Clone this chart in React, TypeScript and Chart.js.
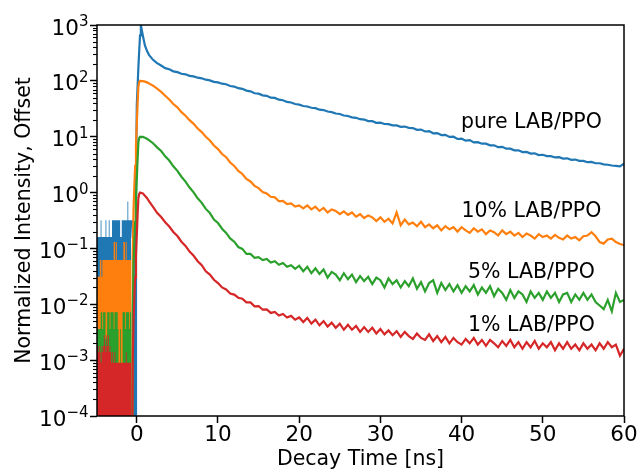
import React, { useEffect, useRef } from 'react';
import { Chart, registerables } from 'chart.js';

Chart.register(...registerables);

const FONT = '"DejaVu Sans", "Liberation Sans", sans-serif';

const seriesNames = ['pure LAB/PPO', '10% LAB/PPO', '5% LAB/PPO', '1% LAB/PPO'];
const seriesColors = ['#1f77b4', '#ff7f0e', '#2ca02c', '#d62728'];

const xTickValues = [0, 10, 20, 30, 40, 50, 60];
const yTickExponents = [-4, -3, -2, -1, 0, 1, 2, 3];
const yMinorMultipliers = [2, 3, 4, 5, 6, 7, 8, 9];

// annotation anchor (data coords: time [ns], intensity at text baseline)
const labelTime = [48.6, 48.6, 48.6, 48.6];
const labelLevel = [14.2, 0.36, 0.03, 0.00333];

// pre-trigger noise floor (visible envelope of the counts before t=0)
const preTriggerTime = [
  -4.9, -4.8, -4.7, -4.6, -4.5, -4.4, -4.3, -4.2, -4.1, -4.0,
  -3.9, -3.8, -3.7, -3.6, -3.5, -3.4, -3.3, -3.2, -3.1, -3.0,
  -2.9, -2.8, -2.7, -2.6, -2.5, -2.4, -2.3, -2.2, -2.1, -2.0,
  -1.9, -1.8, -1.7, -1.6, -1.5, -1.4, -1.3, -1.2, -1.1, -1.0,
  -0.9, -0.8, -0.7,
];
const pureBackground = [
  0.16, 0.16, 0.16, 0.16, 0.16, 0.32, 0.16, 0.16, 0.16, 0.16,
  0.16, 0.32, 0.16, 0.16, 0.16, 0.32, 0.16, 0.16, 0.16, 0.32,
  0.32, 0.32, 0.32, 0.32, 0.32, 0.32, 0.32, 0.32, 0.32, 0.16,
  0.16, 0.32, 0.32, 0.32, 0.32, 0.32, 0.32, 0.32, 0.69, 0.32,
  0.32, 0.32, 0.32,
];
const tenBackground = [
  0.031, 0.031, 0.031, 0.031, 0.062, 0.062, 0.031, 0.062, 0.062, 0.062,
  0.062, 0.062, 0.062, 0.062, 0.062, 0.062, 0.062, 0.062, 0.062, 0.062,
  0.062, 0.13, 0.13, 0.062, 0.13, 0.062, 0.062, 0.062, 0.062, 0.062,
  0.062, 0.062, 0.062, 0.13, 0.13, 0.062, 0.13, 0.062, 0.062, 0.062,
  0.062, 0.062, 0.062,
];
const fiveBackground = [
  0.0036, 0.0036, 0.0036, 0.0036, 0.0036, 0.0072, 0.0072, 0.0036, 0.0072, 0.0072,
  0.0072, 0.0024, 0.0024, 0.0072, 0.0072, 0.0072, 0.0036, 0.0072, 0.0072, 0.0072,
  0.0072, 0.0036, 0.0072, 0.0072, 0.0072, 0.0072, 0.0036, 0.0008, 0.0008, 0.0036,
  0.0008, 0.0008, 0.0072, 0.0072, 0.0072, 0.0036, 0.0072, 0.0072, 0.0072, 0.0072,
  0.0036, 0.0072, 0.0072,
];
const oneBackground = [
  0.0018, 0.0018, 0.0014, 0.0018, 0.0014, 0.0009, 0.0018, 0.0014, 0.0018, 0.0028,
  0.0018, 0.0014, 0.0028, 0.0018, 0.0028, 0.0014, 0.0018, 0.0014, 0.0009, 0.0014,
  0.0009, 0.0009, 0.0014, 0.0009, 0.0009, 0.0009, 0.0009, 0.0009, 0.0009, 0.0009,
  0.0009, 0.0009, 0.0009, 0.0009, 0.0009, 0.0009, 0.0014, 0.0009, 0.0009, 0.0009,
  0.0009, 0.0009, 0.0009,
];

// decay curves (0 = zero counts)
const decayTime = [
  -0.6, -0.5, -0.4, -0.3, -0.2, -0.1, 0, 0.1, 0.2, 0.3, 0.4, 0.5,
  0.75, 1, 1.25, 1.5,
  2, 2.5, 3, 3.5, 4, 4.5, 5, 5.5, 6, 6.5,
  7, 7.5, 8, 8.5, 9, 9.5, 10, 10.5, 11, 11.5,
  12, 12.5, 13, 13.5, 14, 14.5, 15, 15.5, 16, 16.5,
  17, 17.5, 18, 18.5, 19, 19.5, 20, 20.5, 21, 21.5,
  22, 22.5, 23, 23.5, 24, 24.5, 25, 25.5, 26, 26.5,
  27, 27.5, 28, 28.5, 29, 29.5, 30, 30.5, 31, 31.5,
  32, 32.5, 33, 33.5, 34, 34.5, 35, 35.5, 36, 36.5,
  37, 37.5, 38, 38.5, 39, 39.5, 40, 40.5, 41, 41.5,
  42, 42.5, 43, 43.5, 44, 44.5, 45, 45.5, 46, 46.5,
  47, 47.5, 48, 48.5, 49, 49.5, 50, 50.5, 51, 51.5,
  52, 52.5, 53, 53.5, 54, 54.5, 55, 55.5, 56, 56.5,
  57, 57.5, 58, 58.5, 59, 59.5, 60,
];
const pureDecay = [
  0.32, 0.16, 0.16, 0, 0, 1.5, 37, 80, 180, 350, 650, 1000,
  640, 430, 345, 292,
  238, 207, 188, 169, 161, 148, 143, 134, 131, 123,
  120, 114, 111, 105, 102, 96, 94, 89, 87, 81,
  79, 74, 72, 67, 65, 60, 59, 55, 54, 50,
  49.5, 46, 45, 42, 41, 38.5, 37.5, 35.5, 34.8, 33,
  32.5, 30.5, 30, 28.3, 27.5, 26, 25.5, 24, 23.5, 22.2,
  21.8, 20.6, 20.3, 19, 19, 17.7, 17.8, 16.9, 16.8, 16,
  15.9, 15, 15.2, 14.4, 14.3, 13.3, 13.4, 12.4, 12.6, 11.5,
  11.6, 10.7, 10.8, 9.9, 10, 9.1, 9.2, 8.5, 8.7, 7.9,
  8.0, 7.5, 7.5, 7.0, 7.0, 6.5, 6.6, 6.1, 6.1, 5.7,
  5.7, 5.3, 5.35, 5.0, 5.05, 4.7, 4.75, 4.5, 4.5, 4.25,
  4.3, 4.05, 4.1, 3.85, 3.9, 3.7, 3.7, 3.5, 3.55, 3.35,
  3.35, 3.2, 3.15, 3.05, 3.0, 2.95, 3.3,
];
const tenDecay = [
  0, 0.08, 0.5, 1.3, 3, 7, 17, 40, 80, 95, 100, 99,
  99, 97, 94, 90,
  82, 72.5, 63.5, 54, 46.5, 38.5, 33.5, 27.5, 23.8, 19.8,
  17.0, 14.0, 12.1, 10.0, 8.55, 6.95, 6.0, 4.9, 4.3, 3.45,
  3.0, 2.45, 2.15, 1.76, 1.58, 1.32, 1.2, 1.02, 0.96, 0.84,
  0.82, 0.7, 0.71, 0.62, 0.64, 0.56, 0.59, 0.52, 0.59, 0.5,
  0.56, 0.47, 0.53, 0.44, 0.5, 0.47, 0.41, 0.46, 0.4, 0.44,
  0.37, 0.41, 0.35, 0.39, 0.36, 0.31, 0.36, 0.3, 0.34, 0.28,
  0.44, 0.26, 0.33, 0.27, 0.29, 0.25, 0.3, 0.24, 0.27, 0.23,
  0.26, 0.21, 0.25, 0.22, 0.24, 0.2, 0.24, 0.21, 0.19, 0.23,
  0.2, 0.22, 0.18, 0.21, 0.195, 0.17, 0.21, 0.18, 0.2, 0.17,
  0.19, 0.16, 0.185, 0.17, 0.15, 0.18, 0.16, 0.17, 0.15, 0.175,
  0.155, 0.145, 0.17, 0.15, 0.16, 0.14, 0.165, 0.17, 0.195, 0.165,
  0.13, 0.122, 0.145, 0.15, 0.13, 0.12, 0.115,
];
const fiveDecay = [
  0, 0.008, 0.05, 0.13, 0.3, 0.7, 1.7, 4, 8, 9.5, 10, 9.9,
  9.9, 9.6, 9.2, 8.7,
  7.65, 6.45, 5.55, 4.45, 3.75, 2.95, 2.45, 1.92, 1.57, 1.23,
  1.01, 0.79, 0.655, 0.51, 0.43, 0.33, 0.285, 0.225, 0.19, 0.151,
  0.132, 0.106, 0.098, 0.08, 0.08, 0.068, 0.07, 0.062, 0.065, 0.056,
  0.059, 0.051, 0.055, 0.047, 0.05, 0.043, 0.049, 0.039, 0.047, 0.036,
  0.044, 0.035, 0.042, 0.03, 0.038, 0.034, 0.027, 0.036, 0.028, 0.034,
  0.025, 0.032, 0.026, 0.031, 0.023, 0.03, 0.027, 0.02, 0.029, 0.023,
  0.027, 0.02, 0.026, 0.021, 0.029, 0.019, 0.025, 0.017, 0.024, 0.027,
  0.016, 0.024, 0.018, 0.023, 0.017, 0.022, 0.016, 0.021, 0.017, 0.022,
  0.015, 0.02, 0.016, 0.021, 0.014, 0.019, 0.016, 0.012, 0.018, 0.013,
  0.017, 0.015, 0.011, 0.017, 0.013, 0.016, 0.012, 0.017, 0.013, 0.016,
  0.011, 0.015, 0.016, 0.011, 0.015, 0.012, 0.016, 0.012, 0.015, 0.011,
  0.0095, 0.0082, 0.012, 0.0075, 0.016, 0.011, 0.012,
];
const oneDecay = [
  0, 0.001, 0.005, 0.013, 0.03, 0.07, 0.17, 0.4, 0.8, 0.95, 1.0, 0.99,
  0.96, 0.88, 0.8, 0.7,
  0.555, 0.435, 0.365, 0.295, 0.247, 0.197, 0.167, 0.132, 0.111, 0.088,
  0.074, 0.059, 0.05, 0.039, 0.034, 0.0275, 0.024, 0.02, 0.0184, 0.0156,
  0.0149, 0.0131, 0.0126, 0.0108, 0.0108, 0.0092, 0.0093, 0.008, 0.0081, 0.007,
  0.0073, 0.0063, 0.0067, 0.0058, 0.0062, 0.0053, 0.0058, 0.0048, 0.0057, 0.0045,
  0.0053, 0.0042, 0.005, 0.004, 0.0047, 0.0038, 0.0045, 0.0035, 0.0043, 0.0035,
  0.0041, 0.0032, 0.0039, 0.0032, 0.0038, 0.003, 0.0036, 0.0029, 0.0034, 0.0028,
  0.0033, 0.0026, 0.0032, 0.0027, 0.0024, 0.003, 0.0025, 0.0023, 0.0029, 0.0022,
  0.0027, 0.0021, 0.0026, 0.002, 0.0025, 0.0021, 0.0019, 0.0024, 0.002, 0.0025,
  0.0019, 0.0023, 0.0018, 0.0023, 0.002, 0.0017, 0.0022, 0.0018, 0.0023, 0.0017,
  0.0021, 0.0016, 0.0021, 0.0017, 0.0022, 0.0016, 0.002, 0.0017, 0.0021, 0.0015,
  0.002, 0.0016, 0.0021, 0.0016, 0.0019, 0.0015, 0.002, 0.0016, 0.0019, 0.0015,
  0.002, 0.0016, 0.0021, 0.0017, 0.0019, 0.0012, 0.0016,
];

const ZERO_COUNT_FLOOR = 1e-6;
const backgrounds = [pureBackground, tenBackground, fiveBackground, oneBackground];
const decays = [pureDecay, tenDecay, fiveDecay, oneDecay];

const decorPlugin = {
  id: 'decor',
  afterDraw(chart: any) {
    const { ctx, chartArea: a, scales } = chart;
    const xs = scales.x;
    const ys = scales.y;
    ctx.save();
    // minor y ticks
    ctx.strokeStyle = '#000';
    ctx.lineWidth = 1.1;
    yTickExponents.slice(0, -1).forEach((k) => {
      yMinorMultipliers.forEach((m) => {
        const py = Math.round(ys.getPixelForValue(m * Math.pow(10, k))) + 0.5;
        ctx.beginPath();
        ctx.moveTo(a.left - 4, py);
        ctx.lineTo(a.left, py);
        ctx.stroke();
      });
    });
    // frame
    ctx.lineWidth = 1.5;
    ctx.strokeRect(a.left, a.top, a.right - a.left, a.bottom - a.top);
    // y tick labels with superscript exponents
    ctx.fillStyle = '#000';
    ctx.textAlign = 'left';
    ctx.textBaseline = 'alphabetic';
    const right = a.left - 8.5;
    yTickExponents.forEach((k) => {
      const py = ys.getPixelForValue(Math.pow(10, k));
      const expStr = k < 0 ? '\u2212' + String(-k) : String(k);
      ctx.font = `15px ${FONT}`;
      const ew = ctx.measureText(expStr).width;
      ctx.font = `21.5px ${FONT}`;
      const bw = ctx.measureText('10').width;
      ctx.fillText('10', right - ew - bw, py + 9.5);
      ctx.font = `15px ${FONT}`;
      ctx.fillText(expStr, right - ew, py + 1);
    });
    // series annotations
    ctx.font = `20.5px ${FONT}`;
    ctx.textAlign = 'center';
    seriesNames.forEach((name, i) => {
      ctx.fillText(name, xs.getPixelForValue(labelTime[i]), ys.getPixelForValue(labelLevel[i]));
    });
    ctx.restore();
  },
};

export default function App() {
  const ref = useRef<HTMLCanvasElement | null>(null);
  useEffect(() => {
    document.body.style.margin = '0';
    const canvas = ref.current;
    if (!canvas) return;
    const datasets: any[] = [];
    seriesNames.forEach((name, s) => {
      const color = seriesColors[s];
      datasets.push({
        label: name + ' (pre-trigger)',
        data: preTriggerTime.map((t, i) => ({ x: t, y: backgrounds[s][i] > 0 ? backgrounds[s][i] : ZERO_COUNT_FLOOR })),
        stepped: 'middle',
        fill: 'start',
        backgroundColor: color,
        borderColor: color,
        borderWidth: 0,
        pointRadius: 0,
        order: 7 - 2 * s,
      });
      datasets.push({
        label: name,
        data: decayTime.map((t, i) => ({ x: t, y: decays[s][i] > 0 ? decays[s][i] : ZERO_COUNT_FLOOR })),
        borderColor: color,
        backgroundColor: color,
        borderWidth: 2.2,
        pointRadius: 0,
        fill: false,
        tension: 0,
        order: 6 - 2 * s,
      });
    });

    const chart = new Chart(canvas, {
      type: 'line',
      data: { datasets },
      options: {
        animation: false,
        responsive: false,
        events: [],
        layout: { padding: { left: 0, right: 14, top: 25, bottom: 0 } },
        plugins: { legend: { display: false }, tooltip: { enabled: false } },
        scales: {
          x: {
            type: 'linear',
            min: -4.9,
            max: 60,
            afterBuildTicks: (scale: any) => {
              scale.ticks = xTickValues.map((v) => ({ value: v }));
            },
            afterFit: (scale: any) => {
              scale.height = 57;
            },
            border: { display: false },
            grid: { drawOnChartArea: false, drawTicks: true, tickLength: 7, tickWidth: 1.5, tickColor: '#000' },
            ticks: {
              autoSkip: false,
              maxRotation: 0,
              padding: 0,
              color: '#000',
              font: { family: FONT, size: 21.5 },
              callback: (v: any) => String(v),
            },
            title: {
              display: true,
              text: 'Decay Time [ns]',
              color: '#000',
              font: { family: FONT, size: 20.5 },
              padding: { top: 0, bottom: 1 },
            },
          },
          y: {
            type: 'logarithmic',
            min: 1e-4,
            max: 1e3,
            afterBuildTicks: (scale: any) => {
              scale.ticks = yTickExponents.map((k) => ({ value: Math.pow(10, k) }));
            },
            afterFit: (scale: any) => {
              scale.width = 97;
            },
            border: { display: false },
            grid: { drawOnChartArea: false, drawTicks: true, tickLength: 7, tickWidth: 1.5, tickColor: '#000' },
            ticks: { display: false },
            title: {
              display: true,
              text: 'Normalized Intensity, Offset',
              color: '#000',
              font: { family: FONT, size: 20.5 },
              padding: { top: 12, bottom: 0 },
            },
          },
        },
      },
      plugins: [decorPlugin],
    } as any);
    return () => chart.destroy();
  }, []);
  return (
    <div style={{ width: 638, height: 473 }}>
      <canvas ref={ref} width={638} height={473} style={{ display: 'block', width: 638, height: 473 }} />
    </div>
  );
}
